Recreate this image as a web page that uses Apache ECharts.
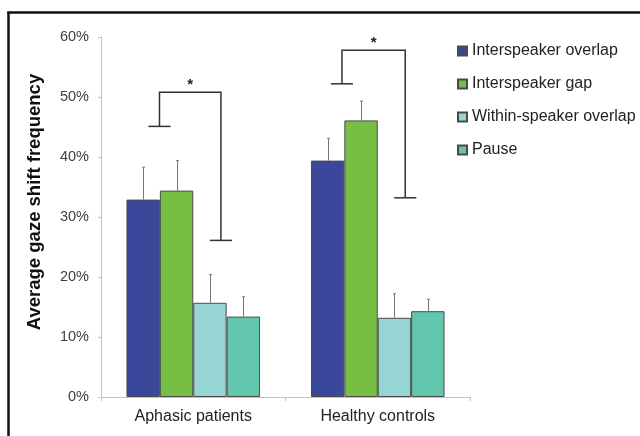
<!DOCTYPE html>
<html><head><meta charset="utf-8">
<script src="https://cdn.jsdelivr.net/npm/echarts@6/dist/echarts.min.js"></script>
<style>html,body{margin:0;padding:0;background:#fff}#c{width:640px;height:436px}</style>
</head><body><div id="c"></div>
<script>
const categories = ['Aphasic patients', 'Healthy controls'];
const seriesNames = ['Interspeaker overlap', 'Interspeaker gap', 'Within-speaker overlap', 'Pause'];
const interspeakerOverlap = [32.9, 39.4];
const interspeakerGap = [34.4, 46.1];
const withinSpeakerOverlap = [15.7, 13.2];
const pause = [13.4, 14.3];
const errInterspeakerOverlap = [5.4, 3.7];
const errInterspeakerGap = [5.0, 3.2];
const errWithinSpeakerOverlap = [4.7, 4.0];
const errPause = [3.3, 2.0];
const yTicks = [0, 10, 20, 30, 40, 50, 60];
// significance brackets (x in category units 0..2, y in %)
const bracketLeftX = [0.317, 1.306];
const bracketRightX = [0.650, 1.649];
const bracketTopY = [50.8, 57.8];
const bracketLeftY = [45.1, 52.2];
const bracketRightY = [26.1, 33.2];
const bracketLabel = ['*', '*'];

const colors = ['#3B479B', '#77BF44', '#97D4D4', '#62C5AE'];
const values = [interspeakerOverlap, interspeakerGap, withinSpeakerOverlap, pause];
const errs = [errInterspeakerOverlap, errInterspeakerGap, errWithinSpeakerOverlap, errPause];
const GAP = 0.276;
const FONT = '"Liberation Sans", Arial, sans-serif';

const chart = echarts.init(document.getElementById('c'));
const series = [];
values.forEach((v, i) => {
  series.push({
    name: seriesNames[i], type: 'bar', data: v, barGap: 0, barCategoryGap: (GAP * 100) + '%',
    itemStyle: { color: colors[i], borderColor: '#4a4a4a', borderWidth: 1 }, z: 2
  });
});
values.forEach((v, i) => {
  series.push({
    type: 'custom', z: 3, silent: true,
    data: v.map((val, c) => [c, val, errs[i][c]]),
    renderItem: (params, api) => {
      const c = api.value(0), val = api.value(1), e = api.value(2);
      const base = api.coord([c, val]);
      const top = api.coord([c, val + e]);
      const W = api.size([1, 0])[0];
      const gw = W * (1 - GAP), bw = gw / 4;
      const x = Math.round(base[0] - gw / 2 + bw * (i + 0.5)) + 0.5;
      const st = { stroke: '#777', lineWidth: 1 };
      return { type: 'group', children: [
        { type: 'line', shape: { x1: x, y1: base[1], x2: x, y2: top[1] }, style: st },
        { type: 'line', shape: { x1: x - 1.5, y1: top[1], x2: x + 1.5, y2: top[1] }, style: st }
      ]};
    }
  });
});
series.push({
  type: 'custom', xAxisIndex: 1, z: 4, silent: true,
  data: bracketLeftX.map((lx, k) => [lx, bracketRightX[k], bracketTopY[k], bracketLeftY[k], bracketRightY[k]]),
  renderItem: (params, api) => {
    const lx = api.value(0), rx = api.value(1), ty = api.value(2), ly = api.value(3), ry = api.value(4);
    const h = 0.06;
    const p = (x, y) => api.coord([x, y]);
    const st = { stroke: '#333', lineWidth: 1.5, fill: null };
    const a = p(lx, ly), b = p(lx, ty), c = p(rx, ty), d = p(rx, ry);
    const cl1 = p(lx - h, ly), cl2 = p(lx + h, ly), cr1 = p(rx - h, ry), cr2 = p(rx + h, ry);
    const m = p((lx + rx) / 2, ty);
    return { type: 'group', children: [
      { type: 'polyline', shape: { points: [a, b, c, d] }, style: st },
      { type: 'line', shape: { x1: cl1[0], y1: cl1[1], x2: cl2[0], y2: cl2[1] }, style: st },
      { type: 'line', shape: { x1: cr1[0], y1: cr1[1], x2: cr2[0], y2: cr2[1] }, style: st },
      { type: 'text', x: m[0], y: m[1] - 7, style: { text: bracketLabel[params.dataIndex], font: 'bold 15px ' + FONT, fill: '#222', align: 'center', verticalAlign: 'middle' } }
    ]};
  }
});

chart.setOption({
  animation: false,
  textStyle: { fontFamily: FONT },
  grid: { left: 101, right: 170, top: 37, bottom: 39, containLabel: false },
  legend: {
    orient: 'vertical', left: 452, top: 38, itemWidth: 9, itemHeight: 9, itemGap: 17,
    icon: 'rect', data: seriesNames,
    textStyle: { fontSize: 16, lineHeight: 16, color: '#222', fontFamily: FONT }
  },
  xAxis: [{
    type: 'category', data: categories,
    axisLine: { lineStyle: { color: '#c4c4c4', width: 1 } },
    axisTick: { show: true, length: 4, lineStyle: { color: '#c4c4c4' } },
    axisLabel: { fontSize: 16, color: '#222', margin: 12, fontFamily: FONT }
  }, {
    type: 'value', min: 0, max: 2, show: false
  }],
  yAxis: {
    type: 'value', min: 0, max: 60, interval: 10,
    axisLine: { show: true, lineStyle: { color: '#c4c4c4', width: 1 } },
    axisTick: { show: true, length: 3, lineStyle: { color: '#c4c4c4' } },
    splitLine: { show: false },
    axisLabel: { fontSize: 14.5, color: '#404040', margin: 12, fontFamily: FONT,
      formatter: v => yTicks.includes(v) ? v + '%' : '' }
  },
  graphic: [
    { type: 'text', x: 35, y: 202, rotation: Math.PI / 2,
      style: { text: 'Average gaze shift frequency', font: 'bold 18.5px ' + FONT, fill: '#111', align: 'center', verticalAlign: 'middle' } },
    { type: 'line', shape: { x1: 8.5, y1: 12, x2: 8.5, y2: 436 }, style: { stroke: '#111', lineWidth: 2.5 } },
    { type: 'line', shape: { x1: 7.25, y1: 12.5, x2: 640, y2: 12.5 }, style: { stroke: '#111', lineWidth: 2.5 } }
  ],
  series: series
});
</script>
</body></html>
